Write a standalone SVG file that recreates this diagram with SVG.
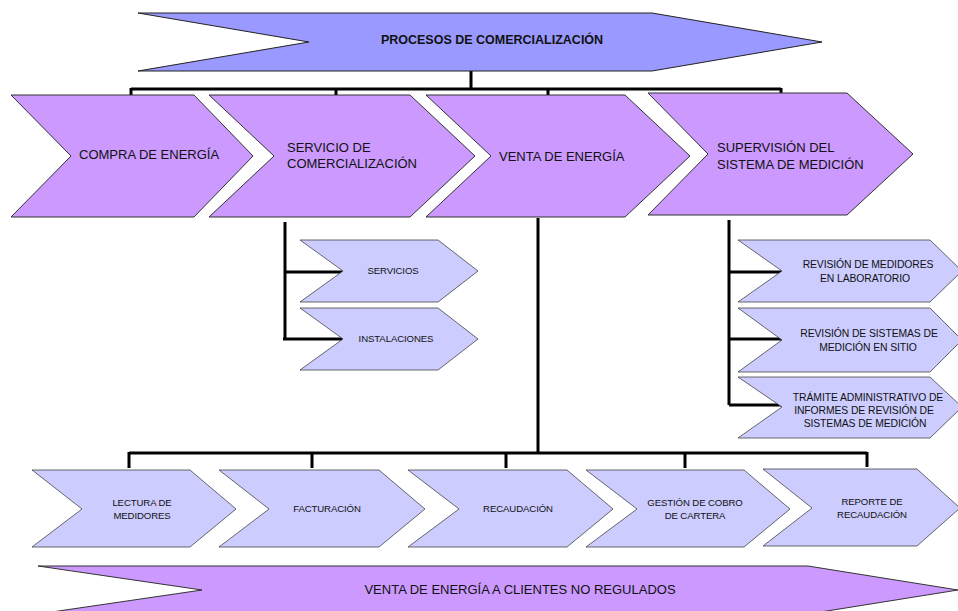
<svg xmlns="http://www.w3.org/2000/svg" width="958" height="611" viewBox="0 0 958 611">
<style>
.bn{fill:#9999ff;stroke:#222;stroke-width:1}
.p1{fill:#cc99ff;stroke:#333;stroke-width:1}
.p2{fill:#ccccff;stroke:#444;stroke-width:0.8}
.c{fill:none;stroke:#000;stroke-width:3}
text{font-family:"Liberation Sans",Arial,sans-serif;fill:#111}
.t0{font-size:12.5px;font-weight:bold}
.t1{font-size:13px}
.t2{font-size:9.6px;text-anchor:middle;letter-spacing:-0.1px}
.t4{font-size:10.4px;text-anchor:middle;letter-spacing:-0.1px}
.t3{font-size:13px;text-anchor:middle}
</style>
<rect width="958" height="611" fill="#fff"/>
<g id="connectors">
<path class="c" d="M471,71V89M131,89H781M131,88V96M336,88V96M548,88V96M781,88V94"/>
<path class="c" d="M285,222V339M285,272H343M283,339H343"/>
<path class="c" d="M538,218V453M129,453H867M129,452V468M312,452V468M506,452V468M685,452V468M867,452V467"/>
<path class="c" d="M729,220V405M729,272H782M729,339H782M729,405H782"/>
</g>
<g id="procesos">
<polygon class="bn" points="138,13 652,13 822,42 652,71 138,71 309,42"/>
<text class="t0" x="492" y="44" text-anchor="middle">PROCESOS DE COMERCIALIZACIÓN</text>
</g>
<g id="compra">
<polygon class="p1" points="11,95 194,95 253,156 194,217 11,217 71,156"/>
<text class="t1" x="79" y="159">COMPRA DE ENERGÍA</text>
</g>
<g id="servicio">
<polygon class="p1" points="209,95 410,95 475,156 410,217 209,217 274,156"/>
<text class="t1" x="287" y="152">SERVICIO DE</text>
<text class="t1" x="287" y="168">COMERCIALIZACIÓN</text>
</g>
<g id="venta">
<polygon class="p1" points="426,95 625,95 690,156 625,217 426,217 491,156"/>
<text class="t1" x="499" y="161">VENTA DE ENERGÍA</text>
</g>
<g id="supervision">
<polygon class="p1" points="648,93 847,93 913,154 847,215 648,215 708,154"/>
<text class="t1" x="717" y="152">SUPERVISIÓN DEL</text>
<text class="t1" x="717" y="169">SISTEMA DE MEDICIÓN</text>
</g>
<g id="servicios">
<polygon class="p2" points="300,240 438,240 478,271 438,302 300,302 343,271"/>
<text class="t2" x="393" y="274">SERVICIOS</text>
</g>
<g id="instalaciones">
<polygon class="p2" points="300,308 438,308 478,339 438,370 300,370 343,339"/>
<text class="t2" x="396" y="342">INSTALACIONES</text>
</g>
<g id="rev-lab">
<polygon class="p2" points="738,240 930,240 962,271 930,302 738,302 782,271"/>
<text class="t4" x="868" y="268">REVISIÓN DE MEDIDORES</text>
<text class="t4" x="865" y="282">EN LABORATORIO</text>
</g>
<g id="rev-sitio">
<polygon class="p2" points="738,308 930,308 962,340 930,372 738,372 782,340"/>
<text class="t4" x="869" y="337">REVISIÓN DE SISTEMAS DE</text>
<text class="t4" x="868" y="351">MEDICIÓN EN SITIO</text>
</g>
<g id="tramite">
<polygon class="p2" points="738,377 930,377 962,407 930,438 738,438 782,407"/>
<text class="t4" x="868" y="401">TRÁMITE ADMINISTRATIVO DE</text>
<text class="t4" x="864" y="414">INFORMES DE REVISIÓN DE</text>
<text class="t4" x="865" y="427">SISTEMAS DE MEDICIÓN</text>
</g>
<g id="lectura">
<polygon class="p2" points="32,470 190,470 236,509 190,547 32,547 82,509"/>
<text class="t2" x="142" y="506">LECTURA DE</text>
<text class="t2" x="142" y="519">MEDIDORES</text>
</g>
<g id="facturacion">
<polygon class="p2" points="219,470 379,470 425,509 379,547 219,547 269,509"/>
<text class="t2" x="327" y="512">FACTURACIÓN</text>
</g>
<g id="recaudacion">
<polygon class="p2" points="408,470 567,470 613,509 567,547 408,547 459,509"/>
<text class="t2" x="518" y="512">RECAUDACIÓN</text>
</g>
<g id="gestion">
<polygon class="p2" points="586,470 744,470 790,509 744,547 586,547 637,509"/>
<text class="t2" x="695" y="506">GESTIÓN DE COBRO</text>
<text class="t2" x="695" y="519">DE CARTERA</text>
</g>
<g id="reporte">
<polygon class="p2" points="763,469 917,469 960,508 917,546 763,546 812,508"/>
<text class="t2" x="872" y="505">REPORTE DE</text>
<text class="t2" x="872" y="518">RECAUDACIÓN</text>
</g>
<g id="no-regulados">
<polygon class="p1" points="38,566 808,566 958,590 808,614 38,614 202,590"/>
<text class="t3" x="520" y="594">VENTA DE ENERGÍA A CLIENTES NO REGULADOS</text>
</g>
</svg>
